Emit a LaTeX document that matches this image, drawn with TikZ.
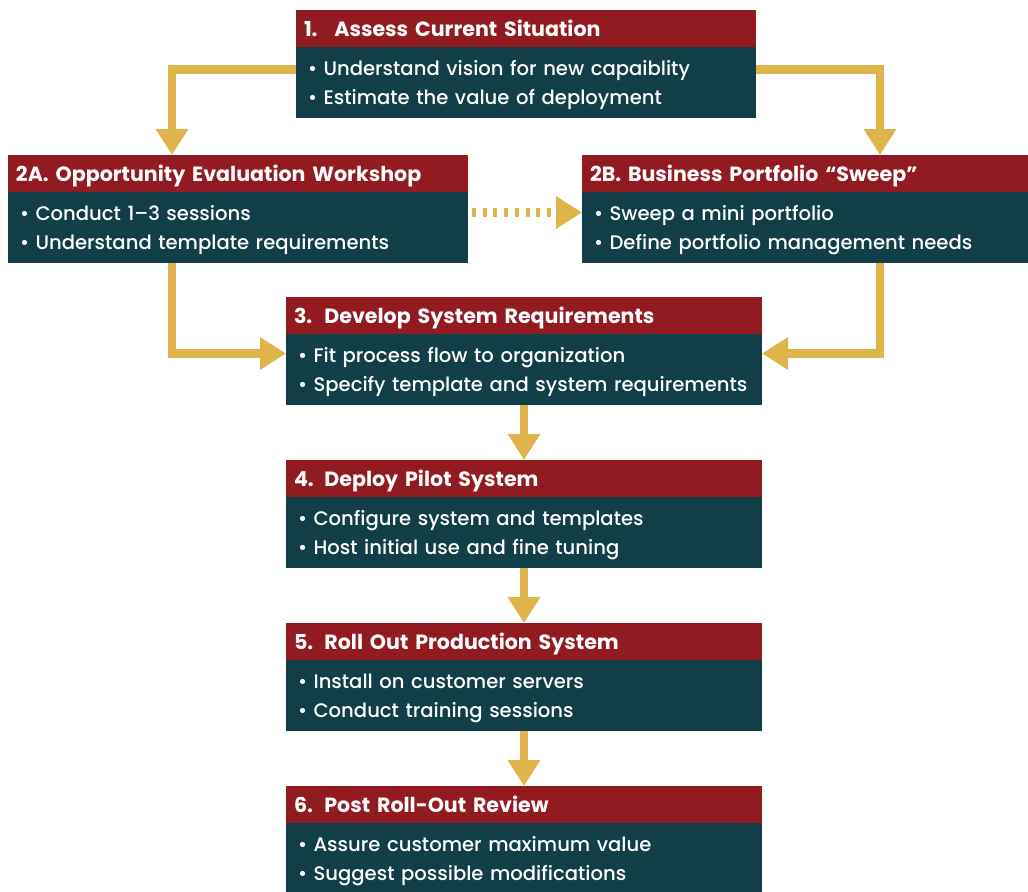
\documentclass[tikz,border=0pt]{standalone}
\usepackage{fontspec}
\setmainfont{Poppins}
\newfontfamily\stepbodyfont{Poppins Medium}[Ligatures=TeX]
\usetikzlibrary{arrows.meta,positioning}

\definecolor{stepred}{HTML}{921B22}
\definecolor{stepteal}{HTML}{123E48}
\definecolor{flowgold}{HTML}{DFB54B}

\newcommand{\stepnum}[1]{\makebox[15.2pt][l]{#1}}

\begin{document}
\begin{tikzpicture}[x=0.5pt,y=-0.5pt,
	hdr/.style={
		fill=stepred, text=white, font=\bfseries\fontsize{10.3}{12}\selectfont,
		anchor=north west, align=left, text width=#1,
		text height=9.5pt, text depth=1.3pt,
		inner xsep=4pt, inner ysep=0pt, minimum height=18.5pt, outer sep=0pt
	},
	bdy/.style={
		fill=stepteal, text=white, font=\stepbodyfont\fontsize{9.8}{14.5}\selectfont,
		align=left, text width=#1,
		text height=9pt, text depth=16pt,
		inner xsep=6pt, inner ysep=0pt, minimum height=35.5pt, outer sep=0pt
	},
	flow/.style={
		draw=flowgold, line width=4.25pt,
		-{Triangle[width=15.5pt,length=13pt]}
	},
	dotflow/.style={
		flow, dash pattern=on 2pt off 3.35pt
	}]
	% Page frame
	\useasboundingbox (0,0) rectangle (1028,891);

	% Step 1
	\node[hdr=222pt] (h1) at (296,10) {\stepnum{1.}Assess Current Situation};
	\node[bdy=218pt, below=0pt of h1] (b1) {\textbullet\ Understand vision for new capaiblity\\
		\textbullet\ Estimate the value of deployment};

	% Steps 2A and 2B
	\node[hdr=222pt] (h2a) at (8,155) {2A. Opportunity Evaluation Workshop};
	\node[bdy=218pt, below=0pt of h2a] (b2a) {\textbullet\ Conduct 1\textendash 3 sessions\\
		\textbullet\ Understand template requirements};
	\node[hdr=215pt] (h2b) at (582,155) {2B. Business Portfolio ``Sweep''};
	\node[bdy=211pt, below=0pt of h2b] (b2b) {\textbullet\ Sweep a mini portfolio\\
		\textbullet\ Define portfolio management needs};

	% Steps 3 to 6
	\node[hdr=230pt] (h3) at (286,297) {\stepnum{3.}Develop System Requirements};
	\node[bdy=226pt, below=0pt of h3] (b3) {\textbullet\ Fit process flow to organization\\
		\mbox{\textbullet\ Specify template and system requirements}};
	\node[hdr=230pt] (h4) at (286,460) {\stepnum{4.}Deploy Pilot System};
	\node[bdy=226pt, below=0pt of h4] (b4) {\textbullet\ Configure system and templates\\
		\textbullet\ Host initial use and fine tuning};
	\node[hdr=230pt] (h5) at (286,623) {\stepnum{5.}Roll Out Production System};
	\node[bdy=226pt, below=0pt of h5] (b5) {\textbullet\ Install on customer servers\\
		\textbullet\ Conduct training sessions};
	\node[hdr=230pt] (h6) at (286,786) {\stepnum{6.}Post Roll-Out Review};
	\node[bdy=226pt, below=0pt of h6] (b6) {\textbullet\ Assure customer maximum value\\
		\textbullet\ Suggest possible modifications};

	% Arrows out of step 1
	\draw[flow] ([yshift=6.5pt]b1.west) -| ([xshift=82pt]h2a.north west);
	\draw[flow] ([yshift=6.5pt]b1.east) -| ([xshift=-74pt]h2b.north east);

	% 2A to 2B
	\draw[dotflow, shorten <=2pt] ([yshift=7.5pt]b2a.east) -- ([yshift=7.5pt]b2a.east -| h2b.west);

	% Into step 3
	\draw[flow] ([xshift=82pt]b2a.south west) |- ([yshift=8pt]b3.west);
	\draw[flow] ([xshift=-74pt]b2b.south east) |- ([yshift=8pt]b3.east);

	% Down the chain
	\draw[flow] (b3) -- (h4);
	\draw[flow] (b4) -- (h5);
	\draw[flow] (b5) -- (h6);
\end{tikzpicture}
\end{document}
